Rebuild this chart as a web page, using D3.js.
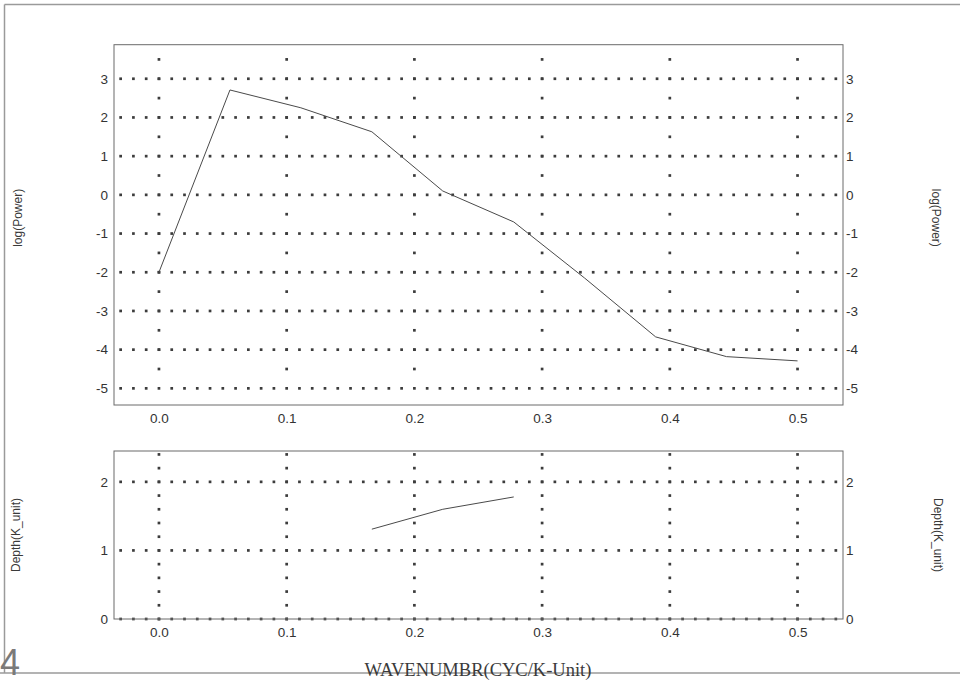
<!DOCTYPE html>
<html>
<head>
<meta charset="utf-8">
<script src="https://cdn.jsdelivr.net/npm/d3@7"></script>
<style>
  html, body { margin: 0; padding: 0; background: #fff; }
  svg { display: block; }
</style>
</head>
<body>
<script>
// Power spectrum (log scale) against wavenumber
const wavenumber = [0, 0.0556, 0.1111, 0.1667, 0.2222, 0.2778, 0.3333, 0.3889, 0.4444, 0.5];
const logPower   = [-2.0, 2.71, 2.25, 1.63, 0.10, -0.70, -2.15, -3.67, -4.18, -4.29];

// Depth estimates over part of the wavenumber band
const depthWavenumber = [0.1667, 0.2222, 0.2778];
const depth           = [1.31, 1.60, 1.78];

const xTicks = [0.0, 0.1, 0.2, 0.3, 0.4, 0.5];
const powerTicks = [-5, -4, -3, -2, -1, 0, 1, 2, 3];
const depthTicks = [0, 1, 2];

const W = 960, H = 683;
const SANS = "'Liberation Sans', Arial, sans-serif";
const SERIF = "'Liberation Serif', 'Times New Roman', serif";
const svg = d3.select("body").append("svg").attr("width", W).attr("height", H);

// outer frame
const frameColor = "#9a9a9a";
svg.append("line").attr("x1", 4.5).attr("x2", W).attr("y1", 4.5).attr("y2", 4.5)
  .attr("stroke", frameColor).attr("stroke-width", 1.5);
svg.append("line").attr("x1", 4.5).attr("x2", 4.5).attr("y1", 4.5).attr("y2", 673)
  .attr("stroke", frameColor).attr("stroke-width", 1.5);
svg.append("line").attr("x1", 0).attr("x2", W).attr("y1", 673).attr("y2", 673)
  .attr("stroke", frameColor).attr("stroke-width", 1.5);

const x = d3.scaleLinear().domain([-0.0352, 0.5356]).range([114, 843]);
const gridXs = d3.range(-3, 54).map(i => i / 100);
const DOT = 2.7;

function panel(cfg) {
  const y = d3.scaleLinear().domain(cfg.domain).range([cfg.bottom, cfg.top]);
  const g = svg.append("g");

  // horizontal dotted grid lines
  cfg.ticks.forEach(t => {
    g.selectAll(null).data(gridXs).join("rect")
      .attr("x", d => x(d) - DOT / 2).attr("y", y(t) - DOT / 2)
      .attr("width", DOT).attr("height", DOT).attr("fill", "#3c3c3c");
  });
  // vertical dotted grid lines
  xTicks.forEach(t => {
    g.selectAll(null).data(cfg.vDots).join("rect")
      .attr("x", x(t) - DOT / 2).attr("y", d => y(d) - DOT / 2)
      .attr("width", DOT).attr("height", DOT).attr("fill", "#3c3c3c");
  });

  // frame of the panel
  g.append("rect").attr("x", x.range()[0]).attr("y", cfg.top)
    .attr("width", x.range()[1] - x.range()[0]).attr("height", cfg.bottom - cfg.top)
    .attr("fill", "none").attr("stroke", "#6a6a6a").attr("stroke-width", 1);

  // axes (labels only)
  const fmtInt = d => String(d);
  const left = g.append("g").attr("transform", `translate(${x.range()[0]},0)`)
    .call(d3.axisLeft(y).tickValues(cfg.ticks).tickSize(0).tickPadding(6).tickFormat(fmtInt));
  const right = g.append("g").attr("transform", `translate(${x.range()[1]},0)`)
    .call(d3.axisRight(y).tickValues(cfg.ticks).tickSize(0).tickPadding(3).tickFormat(fmtInt));
  const bottom = g.append("g").attr("transform", `translate(0,${cfg.bottom})`)
    .call(d3.axisBottom(x).tickValues(xTicks).tickSize(0).tickPadding(8).tickFormat(d => d.toFixed(1)));
  [left, right, bottom].forEach(a => {
    a.select(".domain").remove();
    a.attr("font-family", SANS).attr("font-size", 13.5);
    a.selectAll("text").attr("fill", "#333");
  });

  // data line
  const line = d3.line().x(d => x(d[0])).y(d => y(d[1]));
  g.append("path").datum(d3.zip(cfg.xs, cfg.ys)).attr("d", line)
    .attr("fill", "none").attr("stroke", "#4a4a4a").attr("stroke-width", 1);

  // side titles
  const cy = (cfg.top + cfg.bottom) / 2 + cfg.titleShift;
  [[cfg.leftX, -90], [cfg.rightX, 90]].forEach(([tx, rot]) => {
    g.append("text").attr("transform", `translate(${tx},${cy}) rotate(${rot})`)
      .attr("text-anchor", "middle").attr("dominant-baseline", "middle")
      .attr("font-family", SANS).attr("font-size", 12).attr("fill", "#3a3a3a")
      .text(cfg.title);
  });
}

panel({
  domain: [-5.43, 3.88], top: 44.7, bottom: 405,
  ticks: powerTicks, vDots: d3.range(-9, 8).map(i => i / 2).filter(v => v >= -5 && v <= 3.5),
  xs: wavenumber, ys: logPower,
  title: "log(Power)", leftX: 19, rightX: 935, titleShift: -7
});

panel({
  domain: [0, 2.45], top: 451, bottom: 619,
  ticks: depthTicks, vDots: d3.range(0, 13).map(i => i / 5),
  xs: depthWavenumber, ys: depth,
  title: "Depth(K_unit)", leftX: 17, rightX: 937, titleShift: 0
});

// x-axis title
svg.append("text").attr("x", 478).attr("y", 676)
  .attr("text-anchor", "middle")
  .attr("font-family", SERIF)
  .attr("font-size", 18.5).attr("fill", "#3a3a3a")
  .text("WAVENUMBR(CYC/K-Unit)");

// page number at the lower-left corner
svg.append("text").attr("x", 0).attr("y", 675)
  .attr("font-family", SANS)
  .attr("font-size", 36).attr("fill", "#7a7a7a").text("4");
</script>
</body>
</html>
